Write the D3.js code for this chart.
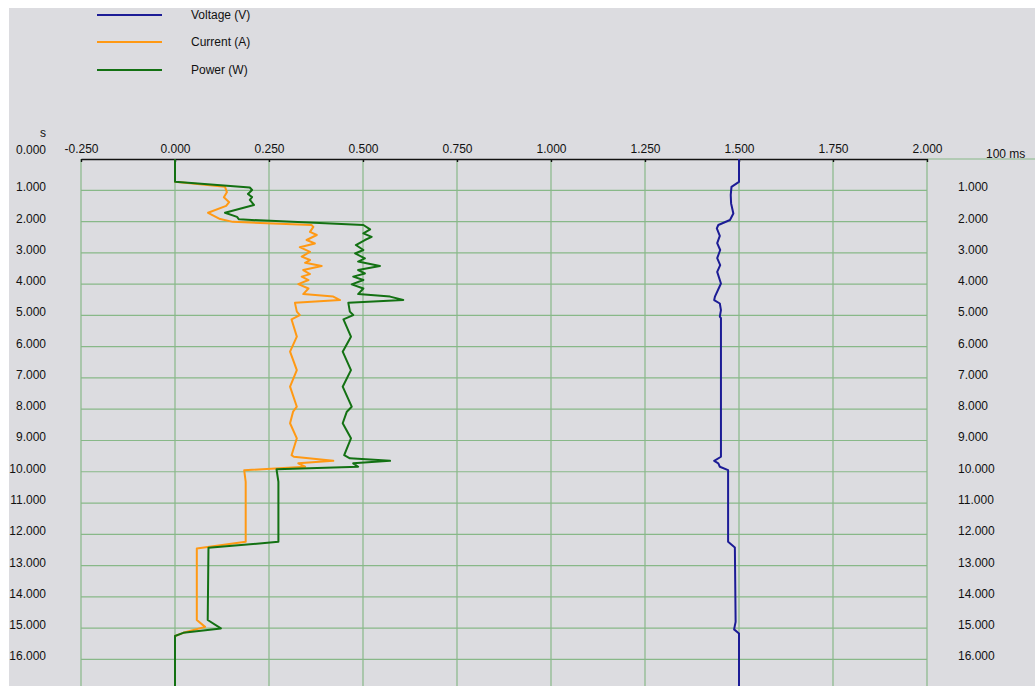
<!DOCTYPE html>
<html>
<head>
	<meta charset="utf-8">
	<title>voltage current power</title>
	<script src="https://cdn.jsdelivr.net/npm/d3@7"></script>
	<style>
		body { margin: 0; background: #ffffff; }
		text { font-family: "Liberation Sans", Arial, sans-serif; font-size: 12px; fill: #111; }
	</style>
</head>
<body>
	<script type="text/javascript">

		// series, time in axis units (s)
		var seriesNames = ["Voltage (V)", "Current (A)", "Power (W)"];
		var seriesColors = ["#1c1c96", "#ff9914", "#137113"];

		var tVoltage = [0, 0.73, 0.89, 1.15, 1.42, 1.74, 1.95, 2.11, 2.22, 2.46, 2.69, 2.91, 3.17, 3.39, 3.61, 3.98,
			4.40, 4.51, 4.62, 4.83, 5.04, 5.09, 9.52, 9.65, 9.73, 9.84, 9.95, 12.24, 12.42, 14.80, 15.04, 15.17, 16.85];
		var voltage = [1.500, 1.500, 1.480, 1.478, 1.479, 1.485, 1.476, 1.445, 1.441, 1.449, 1.442, 1.450, 1.442, 1.450, 1.442, 1.452,
			1.436, 1.434, 1.449, 1.452, 1.449, 1.452, 1.452, 1.434, 1.445, 1.449, 1.471, 1.471, 1.489, 1.491, 1.487, 1.500, 1.500];

		var tCurrent = [0, 0.73, 0.89, 1.06, 1.22, 1.38, 1.50, 1.72, 1.92, 2.01, 2.11, 2.17, 2.33, 2.43, 2.59, 2.70, 2.82, 2.97,
			3.12, 3.23, 3.32, 3.42, 3.55, 3.68, 3.76, 3.87, 4.00, 4.14, 4.32, 4.40, 4.51, 4.60, 4.88, 4.99, 5.13,
			5.68, 6.16, 6.75, 7.28, 7.92, 8.08, 8.45, 8.93, 9.47, 9.52, 9.65, 9.73, 9.84, 9.95, 10.32, 12.24, 12.45,
			14.74, 14.96, 15.15, 15.25, 16.85];
		var current = [0, 0, 0.133, 0.138, 0.130, 0.144, 0.136, 0.088, 0.120, 0.154, 0.363, 0.368, 0.359, 0.377, 0.350, 0.372, 0.332, 0.359,
			0.337, 0.359, 0.346, 0.390, 0.341, 0.359, 0.337, 0.355, 0.328, 0.355, 0.341, 0.421, 0.439, 0.319, 0.324, 0.332, 0.310,
			0.324, 0.306, 0.324, 0.306, 0.324, 0.314, 0.306, 0.324, 0.310, 0.316, 0.421, 0.328, 0.346, 0.184, 0.188, 0.188, 0.058,
			0.058, 0.080, 0.022, 0, 0];

		var tPower = [0, 0.73, 0.91, 0.99, 1.12, 1.22, 1.31, 1.47, 1.72, 1.85, 1.93, 2.11, 2.25, 2.38, 2.49, 2.59, 2.75, 2.91, 3.02,
			3.18, 3.28, 3.42, 3.55, 3.66, 3.76, 3.87, 4.01, 4.14, 4.32, 4.40, 4.51, 4.60, 4.88, 4.99, 5.13,
			5.68, 6.16, 6.75, 7.28, 7.92, 8.08, 8.45, 8.93, 9.47, 9.57, 9.65, 9.73, 9.84, 9.92, 10.32, 12.24, 12.43,
			14.74, 15.01, 15.15, 15.25, 16.85];
		var power = [0, 0, 0.199, 0.205, 0.194, 0.205, 0.199, 0.210, 0.133, 0.165, 0.170, 0.501, 0.519, 0.501, 0.523, 0.505, 0.481, 0.501, 0.479,
			0.505, 0.487, 0.545, 0.487, 0.505, 0.474, 0.501, 0.470, 0.501, 0.487, 0.572, 0.607, 0.461, 0.465, 0.474, 0.448,
			0.468, 0.446, 0.468, 0.446, 0.470, 0.457, 0.446, 0.468, 0.450, 0.465, 0.572, 0.474, 0.487, 0.270, 0.275, 0.275, 0.089,
			0.087, 0.122, 0.022, 0, 0];

		var xTicks = [-0.25, 0, 0.25, 0.5, 0.75, 1, 1.25, 1.5, 1.75, 2];
		var yTicks = [1, 2, 3, 4, 5, 6, 7, 8, 9, 10, 11, 12, 13, 14, 15, 16];

		var width = 1035;
		var height = 686;
		var padLeft = 81, padRight = 927, padTop = 159;

		var fmt = function (d) { return d3.format(".3f")(d).replace("\u2212", "-"); };

		var x = d3.scaleLinear().domain([-0.25, 2]).range([padLeft, padRight]);
		var y = d3.scaleLinear().domain([0, 16.85]).range([padTop, height]);

		var svg = d3.select("body").append("svg")
			.attr("width", width)
			.attr("height", height)
			.style("display", "block");

		svg.append("rect")
			.attr("x", 9).attr("y", 8)
			.attr("width", width - 9).attr("height", height - 8)
			.attr("fill", "#dcdce0");

		// grid
		svg.selectAll("line.vgrid")
			.data(xTicks)
			.enter()
				.append("line")
				.attr("class", "vgrid")
				.attr("x1", function (d) { return x(d); })
				.attr("x2", function (d) { return x(d); })
				.attr("y1", padTop)
				.attr("y2", height)
				.attr("stroke", "#88b888")
				.attr("stroke-width", 1.2);

		svg.selectAll("line.hgrid")
			.data(yTicks)
			.enter()
				.append("line")
				.attr("class", "hgrid")
				.attr("x1", padLeft)
				.attr("x2", padRight)
				.attr("y1", function (d) { return y(d); })
				.attr("y2", function (d) { return y(d); })
				.attr("stroke", "#88b888")
				.attr("stroke-width", 1.2);

		svg.append("line")
			.attr("x1", padRight).attr("x2", width)
			.attr("y1", padTop).attr("y2", padTop)
			.attr("stroke", "#88b888");

		// top axis
		var xAxis = d3.axisTop(x)
			.tickValues(xTicks)
			.tickSize(0)
			.tickPadding(6)
			.tickFormat(fmt);

		var gx = svg.append("g")
			.attr("transform", "translate(0," + padTop + ")")
			.call(xAxis);
		gx.select(".domain").attr("stroke", "#111").attr("stroke-width", 1.6);
		gx.selectAll(".tick text")
			.attr("font-size", 12)
			.attr("font-family", "Liberation Sans, Arial, sans-serif")
			.attr("fill", "#111");
		gx.selectAll(".tick").append("line")
			.attr("y1", 0).attr("y2", 3)
			.attr("stroke", "#111")
			.attr("stroke-width", 1.4);

		// time labels, left and right
		svg.selectAll("text.yl")
			.data(yTicks)
			.enter()
				.append("text")
				.attr("class", "yl")
				.attr("x", 46)
				.attr("y", function (d) { return y(d) + 1; })
				.attr("text-anchor", "end")
				.text(fmt);

		svg.selectAll("text.yr")
			.data(yTicks)
			.enter()
				.append("text")
				.attr("class", "yr")
				.attr("x", 958)
				.attr("y", function (d) { return y(d) + 1; })
				.text(fmt);

		svg.append("text").attr("x", 46).attr("y", 153.5).attr("text-anchor", "end").text(fmt(0));
		svg.append("text").attr("x", 43).attr("y", 137).attr("text-anchor", "middle").text("s");
		svg.append("text").attr("x", 986).attr("y", 157.5).text("100 ms");

		// series
		var times = [tVoltage, tCurrent, tPower];
		var values = [voltage, current, power];

		var line = d3.line()
			.x(function (d) { return x(d[1]); })
			.y(function (d) { return y(d[0]); });

		[1, 2, 0].forEach(function (k) {
			var pts = times[k].map(function (t, i) { return [t, values[k][i]]; });
			svg.append("path")
				.datum(pts)
				.attr("fill", "none")
				.attr("stroke", seriesColors[k])
				.attr("stroke-width", 2)
				.attr("stroke-linejoin", "round")
				.attr("d", line);
		});

		// legend
		var legend = svg.selectAll("g.legend")
			.data(seriesNames)
			.enter()
				.append("g")
				.attr("class", "legend")
				.attr("transform", function (d, i) { return "translate(0," + [15, 42, 70][i] + ")"; });

		legend.append("line")
			.attr("x1", 97).attr("x2", 162)
			.attr("y1", 0).attr("y2", 0)
			.attr("stroke", function (d, i) { return seriesColors[i]; })
			.attr("stroke-width", 2);

		legend.append("text")
			.attr("x", 191)
			.attr("y", 4)
			.text(function (d) { return d; });

	</script>
</body>
</html>
